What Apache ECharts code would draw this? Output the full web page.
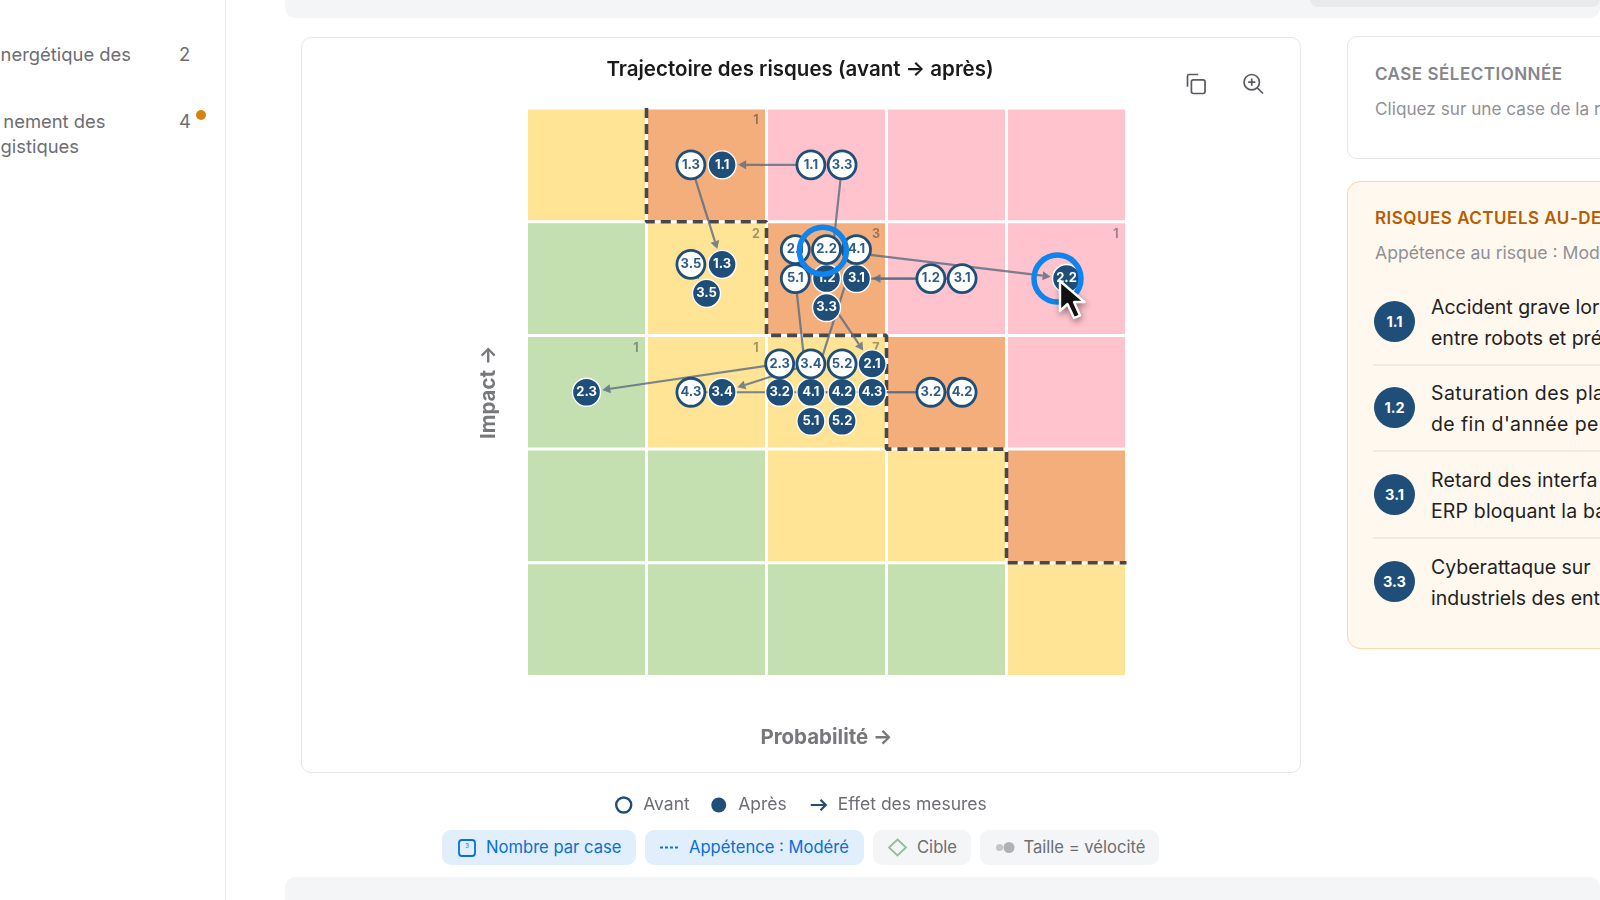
<!DOCTYPE html>
<html lang="fr">
<head>
<meta charset="utf-8">
<title>Trajectoire des risques</title>
<script src="https://cdn.jsdelivr.net/npm/echarts@6/dist/echarts.min.js"></script>
<style>
html,body{margin:0;padding:0;width:1600px;height:900px;overflow:hidden;background:#fff;font-family:Inter,"Noto Sans",sans-serif;}
.abs{position:absolute;white-space:nowrap;}
.bar{position:absolute;background:#f4f5f7;}
.card{position:absolute;box-sizing:border-box;background:#fff;border:1.5px solid #e7e7e9;border-radius:10px;}
.side{color:#6d6e73;font-size:18.4px;line-height:25px;}
.chip{position:absolute;top:830px;height:35px;border-radius:9px;font-size:16.6px;line-height:35px;box-sizing:border-box;white-space:nowrap;}
.chip.on{background:#e1eefb;color:#0b6fd8;}
.chip.off{background:#f4f5f6;color:#6c6e73;}
.chip span{position:absolute;top:0;}
.chip svg{position:absolute;top:0;left:0;}
.pill{position:absolute;left:1374px;width:41px;height:41px;border-radius:50%;background:#1f4e79;color:#fff;font-weight:700;font-size:14.5px;line-height:41px;text-align:center;}
.item{position:absolute;left:1431px;color:#222;font-size:19.5px;line-height:30.6px;white-space:nowrap;}
.sep{position:absolute;left:1373px;right:0;height:1.5px;background:#eeeae4;}
#chart{position:absolute;left:0;top:0;width:1600px;height:900px;}
#cursor{position:absolute;left:1056px;top:277px;filter:drop-shadow(1px 3px 3px rgba(0,0,0,.4));z-index:5;}
</style>
</head>
<body>
<!-- page chrome -->
<div class="bar" style="left:285px;top:-10px;right:0;height:28px;border-radius:10px;"></div>
<div style="position:absolute;left:1310px;top:-10px;right:0;height:16.5px;background:#e9eaec;border-radius:8px;"></div>
<div class="bar" style="left:285px;top:877px;right:0;height:40px;border-radius:10px;"></div>
<div style="position:absolute;left:224.5px;top:0;bottom:0;width:1.5px;background:#ebebed;"></div>
<div class="abs side" style="right:1469px;top:42px;">nergétique des</div>
<div class="abs side" style="left:179px;top:42px;">2</div>
<div class="abs side" style="right:1494.5px;top:109px;">nement des</div>
<div class="abs side" style="right:1521px;top:134px;">gistiques</div>
<div class="abs side" style="left:179px;top:109px;">4</div>
<div style="position:absolute;left:196px;top:109.5px;width:10px;height:10px;border-radius:50%;background:#d9830f;"></div>

<div class="card" style="left:301px;top:36.5px;width:999.5px;height:736.5px;"></div>

<!-- right panels -->
<div class="card" style="left:1346.5px;top:36px;width:300px;height:122.5px;"></div>
<div class="abs" style="left:1375px;top:63px;color:#85868b;font-weight:600;font-size:17px;line-height:22px;letter-spacing:.5px;">CASE SÉLECTIONNÉE</div>
<div class="abs" style="left:1375px;top:98px;color:#909196;font-size:17.2px;line-height:22px;">Cliquez sur une case de la r</div>
<div class="card" style="left:1346.5px;top:180.5px;width:300px;height:468px;background:#fef8ef;border-color:#f9d7a8;border-radius:13px;"></div>
<div class="abs" style="left:1375px;top:207px;color:#b85c00;font-weight:600;font-size:17px;line-height:22px;letter-spacing:.5px;">RISQUES ACTUELS AU-DE</div>
<div class="abs" style="left:1375px;top:242px;color:#909196;font-size:17.6px;line-height:22px;">Appétence au risque : Modé</div>
<div class="pill" style="top:301px;">1.1</div>
<div class="item" style="top:292px;">Accident grave lor<br>entre robots et pré</div>
<div class="sep" style="top:364px;"></div>
<div class="pill" style="top:387px;">1.2</div>
<div class="item" style="top:378px;letter-spacing:.4px;">Saturation des pla<br>de fin d'année per</div>
<div class="sep" style="top:450px;"></div>
<div class="pill" style="top:474px;">3.1</div>
<div class="item" style="top:465px;letter-spacing:.15px;">Retard des interfa<br>ERP bloquant la ba</div>
<div class="sep" style="top:537px;"></div>
<div class="pill" style="top:561px;">3.3</div>
<div class="item" style="top:552px;">Cyberattaque sur<br>industriels des ent</div>

<!-- chart filter chips -->
<div class="chip on" style="left:442px;width:194px;">
  <svg width="40" height="35"><rect x="17" y="10" width="16" height="16" rx="3" fill="none" stroke="#0b6fd8" stroke-width="1.8"/><text x="25" y="17.5" font-size="6" font-family="Inter" fill="#0b6fd8" text-anchor="middle">3</text></svg>
  <span style="left:44px;">Nombre par case</span></div>
<div class="chip on" style="left:644.5px;width:219px;">
  <svg width="40" height="35"><line x1="15" y1="17.5" x2="35" y2="17.5" stroke="#0b6fd8" stroke-width="2" stroke-dasharray="3 2"/></svg>
  <span style="left:44.5px;">Appétence : Modéré</span></div>
<div class="chip off" style="left:873px;width:98px;">
  <svg width="40" height="35"><path d="M24.5 9.5 L33 17.5 L24.5 25.5 L16 17.5 Z" fill="none" stroke="#8fc09a" stroke-width="1.8"/></svg>
  <span style="left:44px;">Cible</span></div>
<div class="chip off" style="left:980px;width:179px;">
  <svg width="40" height="35"><circle cx="19.5" cy="17.5" r="3.5" fill="#c4c5c8"/><circle cx="29" cy="17.5" r="5.5" fill="#b0b1b5"/></svg>
  <span style="left:43.5px;">Taille = vélocité</span></div>

<div id="chart"></div>

<svg id="cursor" width="40" height="46" viewBox="0 0 40 46">
  <path d="M4 4 L4 34 L11.5 27 L18 41 L24 38.5 L18 25 L28.5 25 Z" fill="#111" stroke="#fff" stroke-width="2.4" stroke-linejoin="round"/>
</svg>

<script>
// Probability / impact axes run over five cells
var probabilityCells = [1, 2, 3, 4, 5];
var impactCells = [5, 4, 3, 2, 1];

// Risk level of each cell, top row (impact 5) first: 0 low, 1 medium, 2 high, 3 critical
var impact5Levels = [1, 2, 3, 3, 3];
var impact4Levels = [0, 1, 2, 3, 3];
var impact3Levels = [0, 1, 1, 2, 3];
var impact2Levels = [0, 0, 1, 1, 2];
var impact1Levels = [0, 0, 0, 0, 1];

// Risks before the measures: [id, probability, impact]
var avantRisks = [
  ['1.1', 2.37, 4.5], ['1.2', 3.37, 3.5], ['1.3', 1.37, 4.5],
  ['2.1', 2.24, 3.755], ['2.2', 2.5, 3.755], ['2.3', 2.11, 2.75],
  ['3.1', 3.63, 3.5], ['3.2', 3.37, 2.5], ['3.3', 2.63, 4.5],
  ['3.4', 2.37, 2.75], ['3.5', 1.37, 3.625],
  ['4.1', 2.75, 3.755], ['4.2', 3.63, 2.5], ['4.3', 1.37, 2.5],
  ['5.1', 2.24, 3.5], ['5.2', 2.63, 2.75]
];
// Risks after the measures: [id, probability, impact]
var apresRisks = [
  ['1.1', 1.63, 4.5], ['1.2', 2.5, 3.5], ['1.3', 1.63, 3.625],
  ['2.1', 2.88, 2.75], ['2.2', 4.5, 3.5], ['2.3', 0.5, 2.5],
  ['3.1', 2.75, 3.5], ['3.2', 2.11, 2.5], ['3.3', 2.5, 3.245],
  ['3.4', 1.63, 2.5], ['3.5', 1.5, 3.37],
  ['4.1', 2.37, 2.5], ['4.2', 2.63, 2.5], ['4.3', 2.88, 2.5],
  ['5.1', 2.37, 2.245], ['5.2', 2.63, 2.245]
];
// Moderate risk appetite boundary (staircase along cell edges)
var appetiteBoundary = [[1,5],[1,4],[2,4],[2,3],[3,3],[3,2],[4,2],[4,1],[5,1]];
// Highlighted (hovered) risk rings
var highlightRings = [[2.47, 3.745], [4.425, 3.5]];

var levelColors = ['#c5e0b0', '#ffe496', '#f3ae7c', '#ffc3cd'];
var NAVY = '#1f4e79';

var levelRows = [impact5Levels, impact4Levels, impact3Levels, impact2Levels, impact1Levels];
var cellData = [];
impactCells.forEach(function (imp, r) {
  probabilityCells.forEach(function (prob, c) {
    var n = apresRisks.filter(function (d) {
      return Math.floor(d[1]) === prob - 1 && Math.floor(d[2]) === imp - 1;
    }).length;
    cellData.push([prob - 1, imp - 1, levelRows[r][c], n]);
  });
});

var arrowData = avantRisks.map(function (a) {
  var b = apresRisks.filter(function (d) { return d[0] === a[0]; })[0];
  return [a[1], a[2], b[1], b[2]];
});

var avantData = avantRisks.map(function (d) { return [d[1], d[2], d[0]]; });
var apresData = apresRisks.map(function (d) { return [d[1], d[2], d[0]]; });

var chart = echarts.init(document.getElementById('chart'), null, { renderer: 'canvas' });
chart.setOption({
  animation: false,
  textStyle: { fontFamily: 'Inter' },
  title: {
    text: 'Trajectoire des risques (avant → après)',
    left: 'center', top: 54,
    textStyle: { fontFamily: 'Inter', fontSize: 20.5, fontWeight: 600, color: '#1a1a1a' }
  },
  toolbox: {
    left: 1170, top: 57, itemSize: 19, itemGap: 34,
    iconStyle: { color: 'none', borderColor: '#5a5b5f', borderWidth: 1.7 },
    feature: {
      myCopy: { show: true, title: 'Copier', onclick: function () {},
        icon: 'path://M7 6 H17 a2 2 0 0 1 2 2 V18 a2 2 0 0 1 -2 2 H7 a2 2 0 0 1 -2 -2 V8 a2 2 0 0 1 2 -2 Z M1 13 V2 a1.5 1.5 0 0 1 1.5 -1.5 H12' },
      myZoom: { show: true, title: 'Agrandir', onclick: function () {},
        icon: 'path://M8.5 1 a7.5 7.5 0 1 0 0.01 0 Z M14 14 L19.5 19.5 M8.5 5 V12 M5 8.5 H12' }
    }
  },
  legend: {
    left: 610, top: 791, itemWidth: 15, itemHeight: 15, itemGap: 21.5,
    selectedMode: false,
    textStyle: { fontFamily: 'Inter', fontSize: 17.5, color: '#6c6e73', padding: [0, 0, 0, 7] },
    data: [
      { name: 'Avant', icon: 'circle', itemStyle: { color: '#fff', borderColor: NAVY, borderWidth: 2.4 } },
      { name: 'Après', icon: 'circle', itemStyle: { color: NAVY, borderWidth: 0 } },
      { name: 'Effet des mesures', icon: 'path://M0 9 H20 M13 2 L20 9 L13 16', itemStyle: { color: 'none', borderColor: NAVY, borderWidth: 2.2 } }
    ]
  },
  grid: { left: 526.5, top: 108, width: 600, height: 568.5 },
  xAxis: {
    type: 'value', min: 0, max: 5, interval: 1,
    name: 'Probabilité →', nameLocation: 'middle', nameGap: 50.5,
    nameTextStyle: { fontFamily: 'Inter', fontSize: 20.5, fontWeight: 700, color: '#77787c' },
    axisLine: { show: false }, axisTick: { show: false }, axisLabel: { show: false }, splitLine: { show: false }
  },
  yAxis: {
    type: 'value', min: 0, max: 5, interval: 1,
    name: 'Impact →', nameLocation: 'middle', nameGap: 27, nameRotate: 90,
    nameTextStyle: { fontFamily: 'Inter', fontSize: 20.5, fontWeight: 700, color: '#77787c' },
    axisLine: { show: false }, axisTick: { show: false }, axisLabel: { show: false }, splitLine: { show: false }
  },
  series: [
    {
      id: 'cells', type: 'custom', silent: true, z: 1, data: cellData,
      encode: { x: 0, y: 1 },
      renderItem: function (params, api) {
        var c = api.value(0), i = api.value(1), level = api.value(2), n = api.value(3);
        var tl = api.coord([c, i + 1]), br = api.coord([c + 1, i]);
        var kids = [{
          type: 'rect',
          shape: { x: tl[0] + 1.5, y: tl[1] + 1.5, width: br[0] - tl[0] - 3, height: br[1] - tl[1] - 3 },
          style: { fill: levelColors[level] }
        }];
        if (n > 0) {
          kids.push({
            type: 'text',
            style: { x: br[0] - 10.5, y: tl[1] + 12.5, text: String(n), fill: 'rgba(30,30,30,0.42)',
              font: '700 12.5px Inter', align: 'center', verticalAlign: 'middle' }
          });
        }
        return { type: 'group', children: kids };
      }
    },
    {
      id: 'appetite', type: 'line', silent: true, z: 2, data: appetiteBoundary,
      symbol: 'none', lineStyle: { color: '#48484a', width: 3.6, type: [10, 6] }
    },
    {
      name: 'Effet des mesures', type: 'custom', silent: true, z: 3, data: arrowData,
      encode: { x: [0, 2], y: [1, 3] },
      itemStyle: { color: 'none', borderColor: NAVY },
      renderItem: function (params, api) {
        var a = api.coord([api.value(0), api.value(1)]);
        var b = api.coord([api.value(2), api.value(3)]);
        var dx = b[0] - a[0], dy = b[1] - a[1], L = Math.sqrt(dx * dx + dy * dy);
        var ux = dx / L, uy = dy / L, r = 16;
        var tip = [b[0] - ux * r, b[1] - uy * r];
        var base = [tip[0] - ux * 8, tip[1] - uy * 8];
        var col = 'rgba(86,108,130,0.8)';
        return { type: 'group', children: [
          { type: 'line', shape: { x1: a[0], y1: a[1], x2: base[0], y2: base[1] }, style: { stroke: col, lineWidth: 2.2 } },
          { type: 'polygon', shape: { points: [tip, [base[0] - uy * 4.5, base[1] + ux * 4.5], [base[0] + uy * 4.5, base[1] - ux * 4.5]] }, style: { fill: col } }
        ] };
      }
    },
    {
      name: 'Après', type: 'scatter', z: 4, data: apresData, symbolSize: 28,
      itemStyle: { color: NAVY, borderColor: '#fff', borderWidth: 1.4, opacity: 1 },
      label: { show: true, position: 'inside', fontFamily: 'Inter', fontSize: 13, fontWeight: 700, color: '#fff',
        formatter: function (p) { return p.value[2]; } }
    },
    {
      name: 'Avant', type: 'scatter', z: 5, data: avantData, symbolSize: 28,
      itemStyle: { color: '#fff', borderColor: NAVY, borderWidth: 2.8, opacity: 1 },
      label: { show: true, position: 'inside', fontFamily: 'Inter', fontSize: 13, fontWeight: 700, color: '#2f5c86',
        formatter: function (p) { return p.value[2]; } }
    },
    {
      id: 'rings', type: 'scatter', z: 6, silent: true, data: highlightRings, symbolSize: 47,
      itemStyle: { color: 'rgba(0,0,0,0)', borderColor: '#0f84ef', borderWidth: 5.5, opacity: 1 }
    }
  ]
});
</script>
</body>
</html>
